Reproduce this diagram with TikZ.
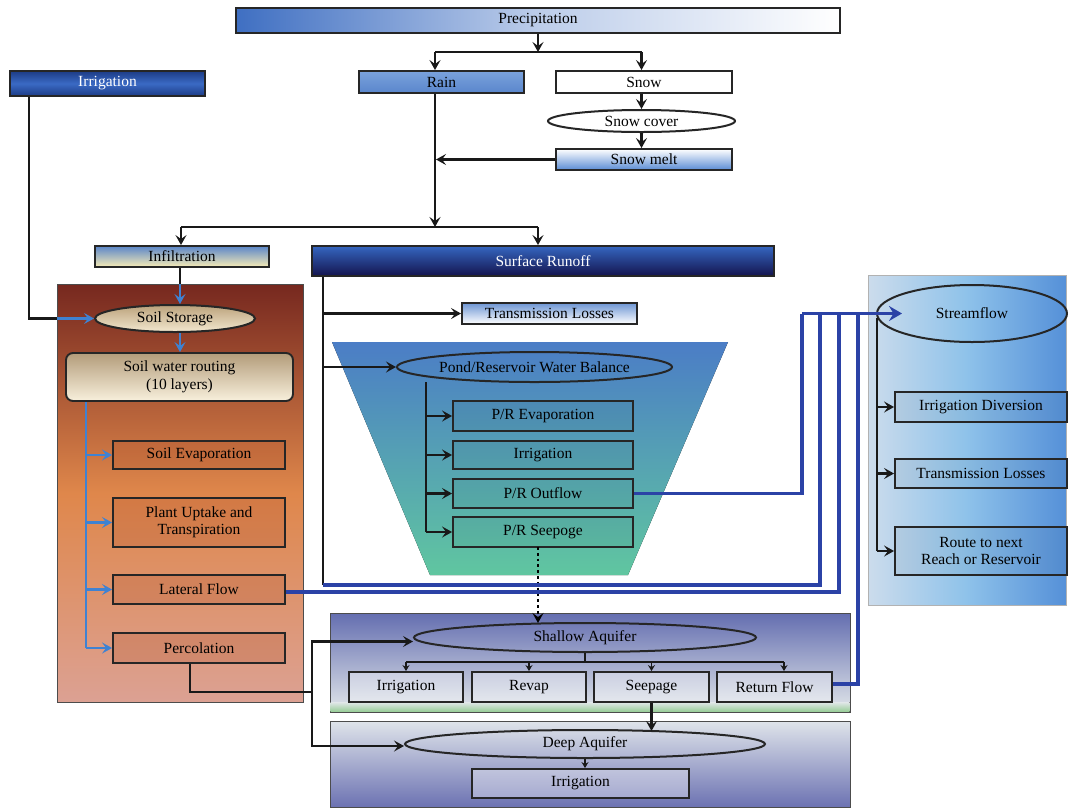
\documentclass[tikz,border=0pt]{standalone}
\usepackage{fontspec}
\setmainfont{Liberation Serif}
\usetikzlibrary{arrows.meta,shapes.geometric,calc,shadings}
\definecolor{precL}{HTML}{3F6FC2}
\definecolor{rainT}{HTML}{7AA2DC}
\definecolor{rainB}{HTML}{5A86CC}
\definecolor{irrT}{HTML}{1D3C86}
\definecolor{irrM}{HTML}{3A6AC4}
\definecolor{surfT}{HTML}{3566C0}
\definecolor{surfB}{HTML}{14144E}
\definecolor{infT}{HTML}{5B86C9}
\definecolor{infB}{HTML}{F7ECB5}
\definecolor{meltB}{HTML}{5A8CD4}
\definecolor{soilT}{HTML}{76281F}
\definecolor{soilM}{HTML}{DF874B}
\definecolor{soilB}{HTML}{DCA193}
\definecolor{ssT}{HTML}{BBA27C}
\definecolor{ssB}{HTML}{F3E8CF}
\definecolor{routT}{HTML}{B39C7A}
\definecolor{routB}{HTML}{F8F0DC}
\definecolor{tlT}{HTML}{6E96D4}
\definecolor{trapT}{HTML}{4B7DC6}
\definecolor{trapB}{HTML}{60C6A0}
\definecolor{sfL}{HTML}{CCDCEC}
\definecolor{sfM}{HTML}{8EC2EA}
\definecolor{sfR}{HTML}{5590D8}
\definecolor{shT}{HTML}{646EB0}
\definecolor{shB}{HTML}{E2E7EA}
\definecolor{dpT}{HTML}{DFE4EA}
\definecolor{dpB}{HTML}{6C72B2}
\definecolor{flowblue}{HTML}{2B42A6}
\definecolor{soilblue}{HTML}{3F82D2}
\definecolor{soilbox}{HTML}{B0542E}
\begin{document}
\begin{tikzpicture}[x=1pt,y=-1pt,font=\fontsize{15.5}{17.5}\selectfont,
  box/.style={draw=black!85, line width=1.9pt, inner sep=0pt, align=center, text=black},
  ell/.style={ellipse, draw=black!85, line width=2pt, inner sep=0pt, align=center},
  panel/.style={draw=black!70, line width=1pt, inner sep=0pt},
  conn/.style={line width=2.2pt, draw=black!90},
  arr/.style={conn, -{Stealth[length=10pt,width=11pt,inset=4pt]}},
  barr/.style={line width=2.2pt, draw=soilblue, -{Stealth[length=10pt,width=11pt,inset=4pt]}},
  bline/.style={line width=2.2pt, draw=soilblue},
  bl/.style={line width=3.6pt, draw=flowblue},
  sarr/.style={line width=1.8pt, draw=black!90, -{Stealth[length=6pt,width=7pt,inset=2pt]}},
  dotarr/.style={line width=2.8pt, draw=black, dash pattern=on 2.8pt off 3pt, -{Stealth[length=10pt,width=11pt,inset=4pt]}},
  sbox/.style={box, fill=soilbox, fill opacity=0.25, text opacity=1},
  tbox/.style={box, fill=black, fill opacity=0.04, text opacity=1},
  wbox/.style={box, fill=white, fill opacity=0.35, text opacity=1}]
\useasboundingbox (0,0) rectangle (1068,807);

% ---------- background panels ----------
\node[panel, minimum width=246pt, minimum height=418pt, top color=soilT, bottom color=soilB, middle color=soilM] (soilpanel) at (180,493) {};
\fill[top color=trapT, bottom color=trapB] (332,342) -- (728,342) -- (628,575) -- (430,575) -- cycle;
\node[panel, draw=black!30, minimum width=198pt, minimum height=330pt, left color=sfL, right color=sfR, middle color=sfM] (sfpanel) at (967,440) {};
\node[panel, minimum width=520pt, minimum height=99pt, top color=shT, bottom color=shB] (shpanel) at (590,662.5) {};
\fill[top color=shB, bottom color=green!35!gray!60] (330.5,702) rectangle (849.5,711.5);
\node[panel, minimum width=520pt, minimum height=86pt, top color=dpT, bottom color=dpB] (dppanel) at (590,764) {};

% ---------- top nodes ----------
\node[box, minimum width=604pt, minimum height=25pt, left color=precL, right color=white, middle color=precL!35!white] (prec) at (538,20.5) {Precipitation};
\node[box, minimum width=195pt, minimum height=25pt, top color=irrT, bottom color=irrT, middle color=irrM, text=white] (irr) at (107.5,83.5) {Irrigation};
\node[box, minimum width=165pt, minimum height=22pt, top color=rainT, bottom color=rainB] (rain) at (441.5,82) {Rain};
\node[box, minimum width=176pt, minimum height=22pt, fill=white] (snow) at (644,82) {Snow};
\node[ell, minimum width=187pt, minimum height=22pt, fill=white] (snowcover) at (641.5,121) {Snow cover};
\node[box, minimum width=176pt, minimum height=21pt, top color=white, bottom color=meltB] (snowmelt) at (644,159.5) {Snow melt};
\node[box, minimum width=174pt, minimum height=21pt, top color=infT, bottom color=infB] (infil) at (182,256.5) {Infiltration};
\node[box, minimum width=462pt, minimum height=30pt, top color=surfT, bottom color=surfB, text=white] (surf) at (543,261) {Surface Runoff};

% ---------- soil column ----------
\node[ell, minimum width=160pt, minimum height=27pt, top color=ssT, bottom color=ssB] (soilstor) at (175,318.5) {Soil Storage};
\node[box, rounded corners=7pt, minimum width=227pt, minimum height=48pt, top color=routT, bottom color=routB] (routing) at (179.5,377) {Soil water routing\\(10 layers)};
\node[sbox, minimum width=172pt, minimum height=28pt] (soilevap) at (199,455) {Soil Evaporation};
\node[sbox, minimum width=172pt, minimum height=49pt] (plant) at (199,522.5) {Plant Uptake and\\Transpiration};
\node[sbox, minimum width=172pt, minimum height=29pt] (lateral) at (199,589.5) {Lateral Flow};
\node[sbox, minimum width=172pt, minimum height=30pt] (perc) at (199,648) {Percolation};

% ---------- pond / reservoir ----------
\node[box, minimum width=175pt, minimum height=21pt, top color=tlT, bottom color=white] (tl1) at (549.5,313.5) {Transmission Losses};
\node[ell, minimum width=275pt, minimum height=30pt] (pond) at (534.5,367) {Pond/Reservoir Water Balance};
\node[tbox, minimum width=180pt, minimum height=30pt] (prevap) at (543,416) {P/R Evaporation};
\node[tbox, minimum width=180pt, minimum height=28pt] (prirr) at (543,455) {Irrigation};
\node[tbox, minimum width=180pt, minimum height=29pt] (prout) at (543,493.5) {P/R Outflow};
\node[tbox, minimum width=180pt, minimum height=30pt] (prseep) at (543,532) {P/R Seepoge};

% ---------- streamflow ----------
\node[ell, minimum width=190pt, minimum height=57pt] (sf) at (972,313.5) {Streamflow};
\node[tbox, minimum width=172pt, minimum height=30pt] (irrdiv) at (981,407) {Irrigation Diversion};
\node[tbox, minimum width=172pt, minimum height=29pt] (tl2) at (981,473.5) {Transmission Losses};
\node[tbox, minimum width=172pt, minimum height=48pt] (route) at (981,551) {Route to next\\Reach or Reservoir};

% ---------- aquifers ----------
\node[ell, minimum width=342pt, minimum height=29pt] (shallow) at (585,637.5) {Shallow Aquifer};
\node[wbox, minimum width=114pt, minimum height=30pt] (sairr) at (406,687) {Irrigation};
\node[wbox, minimum width=114pt, minimum height=30pt] (revap) at (529,687) {Revap};
\node[wbox, minimum width=115pt, minimum height=30pt] (seepage) at (651.5,687) {Seepage};
\node[wbox, minimum width=115pt, minimum height=30pt] (retflow) at (774.5,687) {Return Flow};
\node[ell, minimum width=360pt, minimum height=28pt] (deep) at (585,744) {Deep Aquifer};
\node[wbox, minimum width=217pt, minimum height=29pt] (dirr) at (580.5,783.5) {Irrigation};

% ---------- coordinates ----------
\coordinate (b1) at (538,52);
\coordinate (b1l) at (435,52);
\coordinate (b1r) at (641.5,52);
\coordinate (b2) at (435,227);
\coordinate (b2l) at (181,227);
\coordinate (b2r) at (538,227);
\coordinate (irrx) at (29,96);
\coordinate (soiltop) at (180,284);
\coordinate (soiledge) at (57,318.5);
\coordinate (trunk) at (86,401);
\coordinate (srx) at (323,585);
\coordinate (ptrunk) at (426,382);
\coordinate (c802) at (802,313.5);
\coordinate (c820) at (820,313.5);
\coordinate (c839) at (839,313.5);
\coordinate (c858) at (858,313.5);
\coordinate (strunk) at (877,318);
\coordinate (dotx) at (538,547);
\coordinate (dotend) at (538,623);
\coordinate (pj) at (312,692);
\coordinate (shb) at (585,662);
\coordinate (deepin) at (651.5,731);

% ---------- precipitation branch ----------
\draw[arr] (prec.south) -- (b1);
\draw[conn] (b1l) -- (b1r);
\draw[arr] (b1l) -- (rain.north -| b1l);
\draw[arr] (b1r) -- (snow.north -| b1r);
\draw[arr] (snow.south -| snowcover) -- (snowcover.north);
\draw[arr] (snowcover.south) -- (snowmelt.north -| snowcover);
\draw[arr] (snowmelt.west) -- ($(snowmelt.west -| b2)+(1,0)$);
\draw[arr] (rain.south -| b2) -- (b2);
\draw[conn] (b2l) -- (b2r);
\draw[arr] (b2l) -- (infil.north -| b2l);
\draw[arr] (b2r) -- (surf.north -| b2r);

% ---------- irrigation & infiltration into soil ----------
\draw[conn] (irr.south -| irrx) |- (soiledge);
\draw[barr] (soiledge) -- (soilstor.west);
\draw[conn] (infil.south -| soiltop) -- (soiltop);
\draw[barr] (soiltop) -- (soilstor.north -| soiltop);
\draw[barr] (soilstor.south -| soiltop) -- (routing.north -| soiltop);
\draw[bline] (routing.south -| trunk) -- (perc.west -| trunk);
\draw[barr] (soilevap.west -| trunk) -- (soilevap.west);
\draw[barr] (plant.west -| trunk) -- (plant.west);
\draw[barr] (lateral.west -| trunk) -- (lateral.west);
\draw[barr] (perc.west -| trunk) -- (perc.west);

% ---------- surface runoff ----------
\draw[conn] (surf.south -| srx) -- (srx);
\draw[arr] (tl1.west -| srx) -- (tl1.west);
\draw[arr] (pond.west -| srx) -- (pond.west);
\draw[conn] (ptrunk) -- (prseep.west -| ptrunk);
\draw[arr] (prevap.west -| ptrunk) -- (prevap.west);
\draw[arr] (prirr.west -| ptrunk) -- (prirr.west);
\draw[arr] (prout.west -| ptrunk) -- (prout.west);
\draw[arr] (prseep.west -| ptrunk) -- (prseep.west);
\draw[dotarr] (dotx) -- (dotend);

% ---------- blue flows to streamflow ----------
\draw[bl] (prout.east) -| (c802);
\draw[bl] (srx) -| (c820);
\draw[bl] ($(lateral.east)+(0,2.5)$) -| (c839);
\draw[bl] ($(retflow.east)+(0,-3)$) -| (c858);
\draw[bl, -{Stealth[length=13pt,width=15pt,inset=4.5pt]}] (c802) -- ($(sf.west)+(26,0)$);

% ---------- streamflow outputs ----------
\draw[conn] (strunk) -- (route.west -| strunk);
\draw[arr] (irrdiv.west -| strunk) -- (irrdiv.west);
\draw[arr] (tl2.west -| strunk) -- (tl2.west);
\draw[arr] (route.west -| strunk) -- (route.west);

% ---------- aquifers ----------
\draw[conn] ([xshift=-9pt]perc.south) |- (pj);
\draw[arr] (pj) |- ([yshift=-4pt]shallow.west);
\draw[arr] (pj) |- ([yshift=-2pt]deep.west);
\draw[conn] (shallow.south) -- (shb);
\draw[conn] (shb -| sairr) -- ($(shb -| retflow)+(9.5,0)$);
\draw[sarr] (shb -| sairr) -- (sairr.north);
\draw[sarr] (shb -| revap) -- (revap.north);
\draw[sarr] (shb -| seepage) -- (seepage.north);
\draw[sarr] ($(shb -| retflow)+(9.5,0)$) -- ($(retflow.north)+(9.5,0)$);
\draw[arr] (seepage.south) -- (deepin);
\draw[sarr] (deep.south) -- (dirr.north -| deep.south);
\end{tikzpicture}
\end{document}
